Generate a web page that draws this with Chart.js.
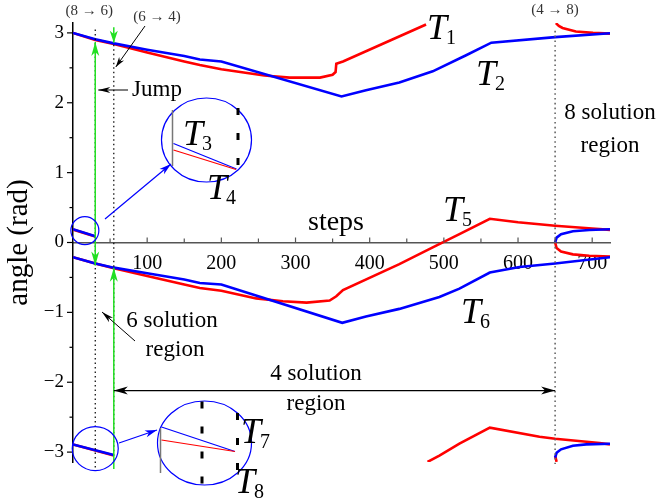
<!DOCTYPE html>
<html lang="en">
<head>
<meta charset="UTF-8" />
<title>angle vs steps</title>
<script src="https://cdn.jsdelivr.net/npm/chart.js"></script>
<style>
  html, body { margin: 0; padding: 0; background: #fff; }
  canvas { display: block; }
</style>
</head>
<body>
<canvas id="chart" width="660" height="503"></canvas>
<script>
const SERIF = '"Liberation Serif", "DejaVu Serif", serif';

// tick labels
const xTickValues = [100, 200, 300, 400, 500, 600, 700];
const yTickValues = [-3, -2, -1, 0, 1, 2, 3];

// blue branches
const t2Steps  = [0, 30, 55, 100, 150, 171, 200, 362, 395, 440, 485, 530, 564, 650, 724];
const t2Angles = [3.00, 2.91, 2.85, 2.76, 2.67, 2.62, 2.59, 2.09, 2.18, 2.29, 2.45, 2.68, 2.86, 2.94, 2.995];
const t6Steps  = [0, 30, 55, 100, 150, 171, 200, 363, 395, 440, 494, 521, 562, 602, 650, 724];
const t6Angles = [-0.21, -0.30, -0.36, -0.44, -0.53, -0.58, -0.60, -1.15, -1.06, -0.95, -0.78, -0.66, -0.43, -0.35, -0.30, -0.21];
const t3Steps  = [0, 30];
const t3Angles = [0.19, 0.09];
const t7Steps  = [0, 55];
const t7Angles = [-2.89, -3.04];
const b8ZeroSteps  = [650, 652, 658, 674, 696, 724];
const b8ZeroAngles = [0.0, 0.07, 0.12, 0.16, 0.18, 0.19];
const b8PiSteps  = [650, 652, 658, 674, 692, 724];
const b8PiAngles = [-3.08, -3.01, -2.96, -2.91, -2.89, -2.88];

// red branches
const t1Steps  = [0, 30, 55, 100, 150, 171, 200, 258, 292, 333, 350, 354, 355, 364, 476];
const t1Angles = [3.00, 2.90, 2.84, 2.72, 2.59, 2.54, 2.48, 2.39, 2.36, 2.36, 2.40, 2.44, 2.56, 2.59, 3.12];
const t5Steps  = [0, 30, 55, 100, 150, 171, 200, 247, 283, 315, 346, 355, 364, 440, 485, 521, 562, 600, 650, 700, 724];
const t5Angles = [-0.21, -0.30, -0.37, -0.48, -0.60, -0.65, -0.69, -0.80, -0.84, -0.86, -0.83, -0.77, -0.68, -0.31, -0.07, 0.12, 0.34, 0.29, 0.24, 0.20, 0.18];
const t4Steps  = [0, 30];
const t4Angles = [0.185, 0.085];
const t8Steps  = [0, 55];
const t8Angles = [-2.89, -3.05];
const t1WrapSteps  = [478, 494, 521, 562, 629, 650, 710, 724];
const t1WrapAngles = [-3.14, -3.05, -2.88, -2.65, -2.78, -2.81, -2.87, -2.89];
const r8ZeroSteps  = [650, 652, 658, 674, 696, 724];
const r8ZeroAngles = [0.0, -0.08, -0.13, -0.17, -0.19, -0.20];
const r8PiSteps  = [651, 655, 660, 678, 701, 724];
const r8PiAngles = [3.14, 3.10, 3.07, 3.02, 3.00, 2.99];
const r8PiLowSteps  = [650, 652];
const r8PiLowAngles = [-3.05, -3.14];

// where the number of solutions changes
const transitionSteps = [30, 55, 650];

const BLUE = '#0000ff';
const RED = '#ff0000';
const GREEN = '#22e022';

function branch(steps, angles, color) {
  return {
    data: steps.map((s, i) => ({ x: s, y: angles[i] })),
    borderColor: color,
    borderWidth: 2.6,
    pointRadius: 0,
    fill: false,
    order: color === BLUE ? 1 : 2
  };
}

const datasets = [
  branch(t2Steps, t2Angles, BLUE),
  branch(t6Steps, t6Angles, BLUE),
  branch(t3Steps, t3Angles, BLUE),
  branch(t7Steps, t7Angles, BLUE),
  branch(b8ZeroSteps, b8ZeroAngles, BLUE),
  branch(b8PiSteps, b8PiAngles, BLUE),
  branch(t1Steps, t1Angles, RED),
  branch(t5Steps, t5Angles, RED),
  branch(t4Steps, t4Angles, RED),
  branch(t8Steps, t8Angles, RED),
  branch(t1WrapSteps, t1WrapAngles, RED),
  branch(r8ZeroSteps, r8ZeroAngles, RED),
  branch(r8PiSteps, r8PiAngles, RED),
  branch(r8PiLowSteps, r8PiLowAngles, RED)
];

function head(c, x, y, ang, len, wid, color) {
  c.save();
  c.translate(x, y);
  c.rotate(ang);
  c.beginPath();
  c.moveTo(0, 0);
  c.lineTo(-len, -wid / 2);
  c.lineTo(-len * 0.72, 0);
  c.lineTo(-len, wid / 2);
  c.closePath();
  c.fillStyle = color;
  c.fill();
  c.restore();
}

function arrow(c, x1, y1, x2, y2, color, lw, len, wid, both) {
  c.strokeStyle = color;
  c.lineWidth = lw;
  c.setLineDash([]);
  c.beginPath();
  c.moveTo(x1, y1);
  c.lineTo(x2, y2);
  c.stroke();
  const a = Math.atan2(y2 - y1, x2 - x1);
  head(c, x2, y2, a, len, wid, color);
  if (both) head(c, x1, y1, a + Math.PI, len, wid, color);
}

function vline(c, x, y1, y2, color, lw, dash) {
  c.strokeStyle = color;
  c.lineWidth = lw;
  c.setLineDash(dash);
  c.beginPath();
  c.moveTo(x, y1);
  c.lineTo(x, y2);
  c.stroke();
  c.setLineDash([]);
}

function text(c, s, x, y, size, color) {
  c.font = size + 'px ' + SERIF;
  c.fillStyle = color || '#000';
  c.textAlign = 'center';
  c.textBaseline = 'middle';
  c.fillText(s, x, y);
}

function tLabel(c, n, x, y) {
  c.fillStyle = '#000';
  c.textAlign = 'left';
  c.textBaseline = 'alphabetic';
  c.font = 'italic 36px ' + SERIF;
  c.fillText('T', x, y);
  c.font = '20px ' + SERIF;
  c.fillText(String(n), x + 19, y + 5);
}

function ellipse(c, cx, cy, rx, ry) {
  c.strokeStyle = BLUE;
  c.lineWidth = 1.2;
  c.setLineDash([]);
  c.beginPath();
  c.ellipse(cx, cy, rx, ry, 0, 0, Math.PI * 2);
  c.stroke();
}

function seg(c, x1, y1, x2, y2, color, lw) {
  c.strokeStyle = color;
  c.lineWidth = lw;
  c.beginPath();
  c.moveTo(x1, y1);
  c.lineTo(x2, y2);
  c.stroke();
}

const annotations = {
  id: 'annotations',
  afterDatasetsDraw(chart) {
    const c = chart.ctx;
    const xs = chart.scales.x, ys = chart.scales.y;
    const X = v => xs.getPixelForValue(v);
    const Y = v => ys.getPixelForValue(v);
    c.save();

    // axis tick marks (y outward, x upward)
    c.strokeStyle = '#000';
    c.lineWidth = 1.2;
    for (let v = -3; v <= 3; v += 0.5) {
      const len = Number.isInteger(v) ? 6 : 3.5;
      seg(c, X(0) - len, Y(v), X(0), Y(v), '#000', 1.2);
    }
    for (let s = 50; s <= 700; s += 50) {
      const len = s % 100 === 0 ? 5 : 4;
      seg(c, X(s), Y(0), X(s), Y(0) - len, '#555', 1.2);
    }

    // transition lines
    const [sA, sB, sC] = transitionSteps;
    vline(c, X(sA), Y(3.05), Y(-3.26), '#000', 1.2, [1.5, 3]);
    vline(c, X(sB), Y(2.83), Y(-3.14), '#000', 1.2, [1.5, 3]);
    vline(c, X(sC), Y(3.03), Y(-3.17), '#666', 1.6, [1.6, 3.2]);

    // green jumps
    arrow(c, X(sA), Y(2.87), X(sA), Y(-0.33), GREEN, 1.5, 14, 8, true);
    arrow(c, X(sB), Y(3.08), X(sB), Y(2.86), GREEN, 1.5, 12, 8, false);
    arrow(c, X(sB), Y(-3.24), X(sB), Y(-0.36), GREEN, 1.5, 14, 8, false);

    // region labels
    text(c, '(8 \u2192 6)', X(sA) - 6, 11, 15, '#333');
    text(c, '(6 \u2192 4)', 157, 17, 15, '#333');
    text(c, '(4 \u2192 8)', X(sC), 10, 15, '#333');
    arrow(c, 145, 26, X(sB) + 2, 67, '#000', 1, 10, 6, false);
    text(c, 'Jump', 157, 90, 23);
    arrow(c, 128, 90, X(sA) + 3, 90, '#000', 1, 12, 6, false);
    text(c, '8 solution', 610, 113, 23);
    text(c, 'region', 610, 146, 23);
    text(c, '6 solution', 172, 321, 23);
    text(c, 'region', 175, 350, 23);
    arrow(c, 135, 341, 102, 312, '#000', 1, 12, 6, false);
    text(c, '4 solution', 316, 374, 23);
    text(c, 'region', 316, 404, 23);
    arrow(c, X(sB), Y(-2.12), X(sC), Y(-2.12), '#000', 1.2, 14, 8, true);
    text(c, 'steps', 336, 223, 28);

    // magnified insets
    ellipse(c, X(16), Y(0.17), 14, 14);
    arrow(c, 105, 219, 171, 164, BLUE, 1.2, 12, 7, false);
    ellipse(c, 206.5, 140, 45, 42);
    seg(c, 172.5, 110, 172.5, 166, '#777', 1.5);
    seg(c, 173.5, 143.5, 236.5, 169, BLUE, 1.2);
    seg(c, 173.5, 150, 236, 169.5, RED, 1.2);
    vline(c, 238, 108, 168, '#000', 3, [7, 18]);

    ellipse(c, X(30), Y(-2.95), 23, 22);
    arrow(c, 119, 443, 157, 430, BLUE, 1.2, 12, 7, false);
    ellipse(c, 204.5, 443, 47, 42);
    seg(c, 160.5, 428, 160.5, 473, '#777', 1.5);
    seg(c, 161.5, 427, 235, 451.5, BLUE, 1.2);
    seg(c, 161.5, 440, 235, 451.5, RED, 1.2);
    vline(c, 202, 401.5, 486, '#000', 3, [7, 18]);
    vline(c, 237.5, 413, 471, '#000', 3, [7, 18]);

    // branch names
    tLabel(c, 1, 427, 39);
    tLabel(c, 2, 476, 85);
    tLabel(c, 3, 183, 145);
    tLabel(c, 4, 207, 199);
    tLabel(c, 5, 443, 221);
    tLabel(c, 6, 461, 323);
    tLabel(c, 7, 241, 443);
    tLabel(c, 8, 235, 493);

    c.restore();
  }
};

const ctx = document.getElementById('chart').getContext('2d');

new Chart(ctx, {
  type: 'line',
  data: { datasets: datasets },
  options: {
    responsive: false,
    animation: false,
    layout: { padding: { top: 23, right: 50, bottom: 41, left: 0 } },
    plugins: {
      legend: { display: false },
      tooltip: { enabled: false }
    },
    scales: {
      x: {
        type: 'linear',
        min: 0,
        max: 724,
        position: { y: 0 },
        grid: { drawOnChartArea: false, drawTicks: false },
        border: { color: '#555', width: 1.5 },
        afterBuildTicks: scale => { scale.ticks = xTickValues.map(v => ({ value: v })); },
        ticks: {
          font: { family: SERIF, size: 20 },
          color: '#000',
          padding: 9,
          maxRotation: 0,
          autoSkip: false
        }
      },
      y: {
        type: 'linear',
        min: -Math.PI,
        max: Math.PI,
        afterFit: scale => { scale.width = 73; },
        grid: { drawOnChartArea: false, drawTicks: false },
        border: { color: '#000', width: 1.5 },
        afterBuildTicks: scale => { scale.ticks = yTickValues.map(v => ({ value: v })); },
        ticks: {
          font: { family: SERIF, size: 19 },
          color: '#000',
          padding: 9,
          callback: v => (v < 0 ? '\u2212' + Math.abs(v) : String(v))
        },
        title: {
          display: true,
          text: 'angle (rad)',
          font: { family: SERIF, size: 29 },
          color: '#000',
          padding: { top: 2, bottom: 0 }
        }
      }
    }
  },
  plugins: [annotations]
});
</script>
</body>
</html>
